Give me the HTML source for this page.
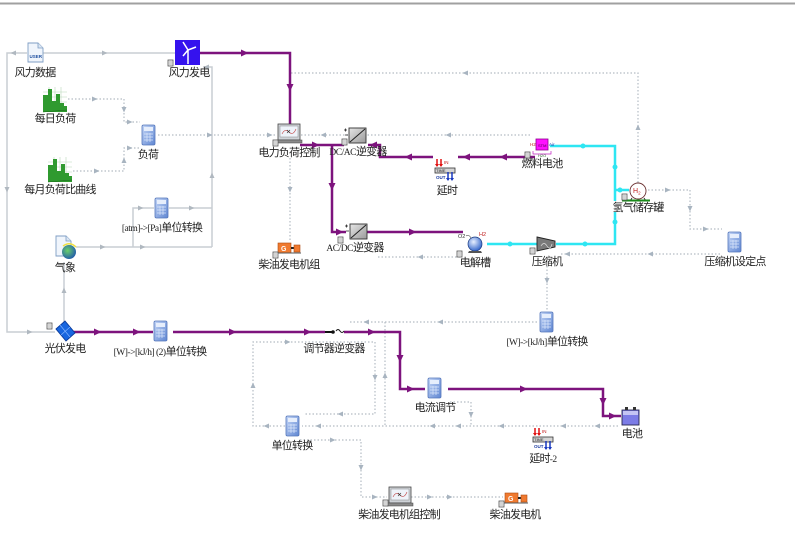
<!DOCTYPE html>
<html><head><meta charset="utf-8"><style>
html,body{margin:0;padding:0;background:#fff;}
svg{display:block;}
.t{font-family:"Liberation Sans","Noto Sans CJK SC",sans-serif;font-size:11px;fill:#222;letter-spacing:-0.8px;}
.s{font-family:"Liberation Serif",serif;font-size:9.5px;letter-spacing:-0.5px;}
.sol{fill:none;stroke:#c9ced4;stroke-width:1.5;}
.dot{fill:none;stroke:#b4bcc4;stroke-width:1.2;stroke-dasharray:1.5 2;}
.pur{fill:none;stroke:#7d137d;stroke-width:2.5;}
.cy{fill:none;stroke:#2ee6f2;stroke-width:2.5;}
</style></head><body>
<svg width="797" height="556" viewBox="0 0 797 556" xmlns="http://www.w3.org/2000/svg">
<defs>
<path id="pa" d="M-4,-3.5 L3.5,0 L-4,3.5Z"/>
<path id="ga" d="M-3,-2.5 L2.5,0 L-3,2.5Z"/>
<linearGradient id="calc" x1="0" y1="0" x2="1" y2="1"><stop offset="0" stop-color="#c4d6f6"/><stop offset="1" stop-color="#5f86d2"/></linearGradient>
<linearGradient id="conv" x1="0" y1="0" x2="1" y2="1"><stop offset="0" stop-color="#e6e6e6"/><stop offset="1" stop-color="#9a9a9a"/></linearGradient>
<radialGradient id="sph" cx="0.4" cy="0.35" r="0.7"><stop offset="0" stop-color="#e8f0ff"/><stop offset="1" stop-color="#2a5fc8"/></radialGradient>
<radialGradient id="glob" cx="0.4" cy="0.4" r="0.7"><stop offset="0" stop-color="#6ad06a"/><stop offset="1" stop-color="#1a50b0"/></radialGradient>
<g id="calcI"><rect x="0" y="0" width="13" height="20" rx="1.5" fill="url(#calc)" stroke="#5577bb" stroke-width="0.8"/><rect x="2" y="2" width="9" height="4" fill="#e6eefc"/><path d="M2,9 h9 M2,12 h9 M2,15 h9 M5,8 v9 M8,8 v9" stroke="#dce7fb" stroke-width="0.7"/></g>
<g id="pin"><rect x="0" y="0" width="5" height="6" fill="#f4f4f4" stroke="#555" stroke-width="0.8"/><path d="M1,2 h3 M1,4 h3" stroke="#777" stroke-width="0.5"/></g>
<g id="bars"><rect x="0" y="0" width="24" height="25" fill="#fff"/><path d="M0,5 h24 M0,10 h24 M0,15 h24 M0,20 h24 M6,0 v25 M12,0 v25 M18,0 v25" stroke="#b8d8b8" stroke-width="0.6"/><path d="M0,25 V8 H5 V2 H9 V14 H13 V7 H17 V16 H21 V19 H24 V25 Z" fill="#2f9a2f"/><path d="M0,25 L24,23" stroke="#1a6a1a" stroke-width="0.6"/></g>
<g id="delay"><path d="M2,0 v7 M6,0 v7" stroke="#e01010" stroke-width="1.5"/><path d="M0,5 l2,3 l2,-3 M4,5 l2,3 l2,-3" fill="#e01010"/><text x="9" y="5" font-family="Liberation Sans,sans-serif" font-size="4.5" fill="#c01010">IN</text><rect x="0" y="9" width="20" height="5" fill="#d4d4d4" stroke="#333" stroke-width="0.8"/><text x="1" y="13" font-family="Liberation Sans,sans-serif" font-size="4" fill="#222">TIME</text><text x="1" y="20" font-family="Liberation Sans,sans-serif" font-size="4.5" fill="#1a3aa0" font-weight="bold">OUT</text><path d="M13,13 v8 M17,13 v8" stroke="#1a3ac0" stroke-width="1.5"/><path d="M11,19 l2,3 l2,-3 M15,19 l2,3 l2,-3" fill="#1a3ac0"/></g>
<g id="laptop"><rect x="0" y="0" width="22" height="16" fill="#cfd3d8" stroke="#444" stroke-width="0.8"/><rect x="2" y="2" width="18" height="11" fill="#eef3fa" stroke="#888" stroke-width="0.5"/><path d="M4,10 q3,-6 7,-2 t7,-3" stroke="#c04040" stroke-width="0.6" fill="none"/><path d="M9,6 l3,3 M12,6 l-3,3" stroke="#333" stroke-width="0.6"/><rect x="-2" y="16" width="26" height="3" fill="#8a8a8a" stroke="#444" stroke-width="0.5"/></g>
<g id="gen"><rect x="0" y="0" width="13" height="10" fill="#f07a30" stroke="#b04a10" stroke-width="0.6"/><text x="3" y="8" font-family="Liberation Sans,sans-serif" font-size="7" fill="#fff" font-weight="bold">G</text><rect x="13" y="4" width="3" height="2" fill="#222"/><rect x="16" y="2" width="6" height="7" fill="#f07a30" stroke="#b04a10" stroke-width="0.6"/><path d="M-1,10 h24" stroke="#555" stroke-width="1"/></g>
<g id="conv1"><rect x="0" y="0" width="17" height="15" fill="url(#conv)" stroke="#333" stroke-width="0.9"/><path d="M1,14 L16,1" stroke="#222" stroke-width="1"/><path d="M-5,2 h3 M-3.5,0.5 v3 M-4,7 h3" stroke="#222" stroke-width="0.8"/></g>
</defs>

<!-- top bar -->
<line x1="0" y1="3.5" x2="795" y2="3.5" stroke="#a0a0a0" stroke-width="2"/>

<!-- solid gray lines -->
<path class="sol" d="M43,53 H175"/>
<use href="#ga" transform="translate(105,53)" fill="#b0b8c0"/>
<path class="sol" d="M27,53 H7 V332 H55"/>
<use href="#ga" transform="translate(13,53) rotate(180)" fill="#b0b8c0"/>
<use href="#ga" transform="translate(7,190) rotate(90)" fill="#b0b8c0"/>
<use href="#ga" transform="translate(30,332)" fill="#b0b8c0"/>
<path class="sol" d="M212,247 V67 H203"/>
<use href="#ga" transform="translate(206,67) rotate(180)" fill="#b0b8c0"/>
<use href="#ga" transform="translate(212,175) rotate(-90)" fill="#b0b8c0"/>
<path class="sol" d="M76,247 H212"/>
<use href="#ga" transform="translate(103,247)" fill="#b0b8c0"/>
<use href="#ga" transform="translate(143,247)" fill="#b0b8c0"/>
<path class="sol" d="M133,247 V208 H154"/>
<use href="#ga" transform="translate(141,208)" fill="#b0b8c0"/>
<path class="sol" d="M169,208 H212"/>
<use href="#ga" transform="translate(192,208)" fill="#b0b8c0"/>
<path class="sol" d="M64,262 V322"/>
<use href="#ga" transform="translate(64,290) rotate(-90)" fill="#b0b8c0"/>

<!-- dotted lines -->
<path class="dot" d="M68,99 H124 V122 H140"/>
<use href="#ga" transform="translate(95,99)" fill="#a8b4c0"/>
<use href="#ga" transform="translate(124,110) rotate(90)" fill="#a8b4c0"/>
<use href="#ga" transform="translate(130,122)" fill="#a8b4c0"/>
<path class="dot" d="M73,171 H124 V148 H140"/>
<use href="#ga" transform="translate(97,171)" fill="#a8b4c0"/>
<use href="#ga" transform="translate(124,160) rotate(-90)" fill="#a8b4c0"/>
<use href="#ga" transform="translate(130,148)" fill="#a8b4c0"/>
<path class="dot" d="M158,135 H277"/>
<use href="#ga" transform="translate(210,135)" fill="#a8b4c0"/>
<use href="#ga" transform="translate(270,135)" fill="#a8b4c0"/>
<path class="dot" d="M301,135 H532"/>
<use href="#ga" transform="translate(323,135) rotate(180)" fill="#a8b4c0"/>
<use href="#ga" transform="translate(448,135) rotate(180)" fill="#a8b4c0"/>
<path class="dot" d="M291,73 H638 V183"/>
<use href="#ga" transform="translate(465,73) rotate(180)" fill="#a8b4c0"/>
<use href="#ga" transform="translate(638,127) rotate(-90)" fill="#a8b4c0"/>
<path class="dot" d="M290,158 V241"/>
<use href="#ga" transform="translate(290,190) rotate(90)" fill="#a8b4c0"/>
<path class="dot" d="M460,257 H378"/>
<use href="#ga" transform="translate(420,257) rotate(180)" fill="#a8b4c0"/>
<path class="dot" d="M720,254 H560"/>
<use href="#ga" transform="translate(650,254) rotate(180)" fill="#a8b4c0"/>
<use href="#ga" transform="translate(567,254) rotate(180)" fill="#a8b4c0"/>
<path class="dot" d="M547,266 V311"/>
<use href="#ga" transform="translate(547,281) rotate(90)" fill="#a8b4c0"/>
<path class="dot" d="M648,190 H690 V229 H722"/>
<use href="#ga" transform="translate(668,190)" fill="#a8b4c0"/>
<use href="#ga" transform="translate(690,209) rotate(90)" fill="#a8b4c0"/>
<use href="#ga" transform="translate(706,229)" fill="#a8b4c0"/>
<path class="dot" d="M537,322 H348"/>
<use href="#ga" transform="translate(366,322) rotate(180)" fill="#a8b4c0"/>
<use href="#ga" transform="translate(440,322) rotate(180)" fill="#a8b4c0"/>
<path class="dot" d="M385,322 V426"/>
<use href="#ga" transform="translate(385,375) rotate(-90)" fill="#a8b4c0"/>
<path class="dot" d="M618,426 H302"/>
<use href="#ga" transform="translate(597,426) rotate(180)" fill="#a8b4c0"/>
<use href="#ga" transform="translate(563,426) rotate(180)" fill="#a8b4c0"/>
<use href="#ga" transform="translate(501,426) rotate(180)" fill="#a8b4c0"/>
<use href="#ga" transform="translate(458,426) rotate(180)" fill="#a8b4c0"/>
<use href="#ga" transform="translate(432,426) rotate(180)" fill="#a8b4c0"/>
<use href="#ga" transform="translate(318,426) rotate(180)" fill="#a8b4c0"/>
<path class="dot" d="M450,402 H471 V426"/>
<use href="#ga" transform="translate(471,415) rotate(90)" fill="#a8b4c0"/>
<path class="dot" d="M285,426 H253 V342 H375 V414 H304"/>
<use href="#ga" transform="translate(266,426) rotate(180)" fill="#a8b4c0"/>
<use href="#ga" transform="translate(253,385) rotate(-90)" fill="#a8b4c0"/>
<use href="#ga" transform="translate(288,342)" fill="#a8b4c0"/>
<use href="#ga" transform="translate(375,378) rotate(90)" fill="#a8b4c0"/>
<use href="#ga" transform="translate(340,414) rotate(180)" fill="#a8b4c0"/>
<path class="dot" d="M300,440 H361 V497 H387"/>
<use href="#ga" transform="translate(333,440)" fill="#a8b4c0"/>
<use href="#ga" transform="translate(361,468) rotate(90)" fill="#a8b4c0"/>
<use href="#ga" transform="translate(375,497)" fill="#a8b4c0"/>
<path class="dot" d="M411,497 H503"/>
<use href="#ga" transform="translate(430,497)" fill="#a8b4c0"/>
<use href="#ga" transform="translate(450,497)" fill="#a8b4c0"/>

<!-- cyan lines -->
<path class="cy" d="M550,146 H615 V201"/>
<path class="cy" d="M615,190 H629"/>
<path class="cy" d="M615,212 V244 H556"/>
<path class="cy" d="M487,244 H537"/>
<circle cx="583" cy="146" r="2.5" fill="#2ee6f2"/>
<circle cx="615" cy="167" r="2.5" fill="#2ee6f2"/>
<circle cx="620" cy="190" r="2.5" fill="#2ee6f2"/>
<circle cx="585" cy="244" r="2.5" fill="#2ee6f2"/>
<circle cx="615" cy="222" r="2.5" fill="#2ee6f2"/>
<circle cx="510" cy="244" r="2.5" fill="#2ee6f2"/>

<!-- purple lines -->
<path class="pur" d="M200,53 H290 V125"/>
<use href="#pa" transform="translate(245,53)" fill="#7d137d"/>
<use href="#pa" transform="translate(290,88) rotate(90)" fill="#7d137d"/>
<path class="pur" d="M300,145 H344"/>
<use href="#pa" transform="translate(316,145)" fill="#7d137d"/>
<path class="pur" d="M332,145 V232 H346"/>
<use href="#pa" transform="translate(332,187) rotate(90)" fill="#7d137d"/>
<use href="#pa" transform="translate(340,232)" fill="#7d137d"/>
<path class="pur" d="M367,232 H463"/>
<use href="#pa" transform="translate(413,232)" fill="#7d137d"/>
<path class="pur" d="M535,157 H458"/>
<path class="pur" d="M433,157 H380 V145 H368"/>
<use href="#pa" transform="translate(503,157) rotate(180)" fill="#7d137d"/>
<use href="#pa" transform="translate(466,157) rotate(180)" fill="#7d137d"/>
<use href="#pa" transform="translate(408,157) rotate(180)" fill="#7d137d"/>
<use href="#pa" transform="translate(373,145) rotate(180)" fill="#7d137d"/>
<path class="pur" d="M73,332 H153"/>
<use href="#pa" transform="translate(98,332)" fill="#7d137d"/>
<use href="#pa" transform="translate(137,332)" fill="#7d137d"/>
<path class="pur" d="M173,332 H325"/>
<use href="#pa" transform="translate(233,332)" fill="#7d137d"/>
<use href="#pa" transform="translate(308,332)" fill="#7d137d"/>
<path class="pur" d="M344,332 H400 V389 H425"/>
<use href="#pa" transform="translate(372,332)" fill="#7d137d"/>
<use href="#pa" transform="translate(400,359) rotate(90)" fill="#7d137d"/>
<use href="#pa" transform="translate(411,389)" fill="#7d137d"/>
<path class="pur" d="M448,389 H603 V416 H621"/>
<use href="#pa" transform="translate(524,389)" fill="#7d137d"/>
<use href="#pa" transform="translate(603,402) rotate(90)" fill="#7d137d"/>
<use href="#pa" transform="translate(613,416)" fill="#7d137d"/>

<!-- switch 调节器逆变器 -->
<path d="M325,332 h7" stroke="#111" stroke-width="2"/>
<circle cx="333" cy="332" r="1.8" fill="#111"/>
<path d="M336,331 q2,-3 4,0 t4,0" stroke="#111" stroke-width="1" fill="none"/>

<!-- icons -->
<!-- 风力数据 -->
<path d="M28,43 h10 l5,5 v14 h-15 z" fill="#f0f5fc" stroke="#7f9ec4" stroke-width="0.9"/>
<path d="M38,43 v5 h5" fill="#dbe6f4" stroke="#7f9ec4" stroke-width="0.8"/>
<text x="29.5" y="58" font-family="Liberation Sans,sans-serif" font-size="4.5" fill="#2050a0" font-weight="bold">USER</text>
<!-- 风力发电 -->
<rect x="175" y="40" width="25" height="25" fill="#3512ee"/>
<path d="M188,50 V64 M188,50 L183,42 M188,50 L196,47 M188,50 L183,56" stroke="#fff" stroke-width="1.5"/>
<use href="#pin" transform="translate(168,60)"/>
<!-- bar charts -->
<use href="#bars" transform="translate(43,87)"/>
<use href="#bars" transform="translate(48,157)"/>
<!-- calculators -->
<use href="#calcI" transform="translate(142,125)"/>
<use href="#calcI" transform="translate(155,198)"/>
<use href="#calcI" transform="translate(154,321)"/>
<use href="#calcI" transform="translate(540,312)"/>
<use href="#calcI" transform="translate(428,378)"/>
<use href="#calcI" transform="translate(286,416)"/>
<use href="#calcI" transform="translate(728,232)"/>
<!-- 气象 -->
<path d="M56,236 h10 l5,5 v15 h-15 z" fill="#f0f5fc" stroke="#7f9ec4" stroke-width="0.9"/>
<path d="M66,236 v5 h5" fill="#dbe6f4" stroke="#7f9ec4" stroke-width="0.8"/>
<circle cx="69" cy="252" r="7" fill="url(#glob)"/>
<path d="M63,246 q7,-5 13,1" stroke="#f0e040" stroke-width="1.5" fill="none"/>
<!-- 光伏发电 -->
<polygon points="56,329 65,321 75,333 66,341" fill="#1866e0" stroke="#0a3a9a" stroke-width="0.9"/>
<path d="M60,325 l10,12 M61,335 l9,-8" stroke="#8ab8ff" stroke-width="0.6"/>
<use href="#pin" transform="translate(47,323)"/>
<!-- laptops -->
<use href="#laptop" transform="translate(278,124)"/>
<use href="#pin" transform="translate(273,140)"/>
<use href="#laptop" transform="translate(389,487)"/>
<use href="#pin" transform="translate(383,500)"/>
<!-- converters -->
<use href="#conv1" transform="translate(349,128)"/>
<use href="#pin" transform="translate(342,139)"/>
<use href="#conv1" transform="translate(350,224)"/>
<use href="#pin" transform="translate(338,237)"/>
<!-- gens -->
<use href="#gen" transform="translate(278,243)"/>
<use href="#pin" transform="translate(273,252)"/>
<use href="#gen" transform="translate(505,493)"/>
<use href="#pin" transform="translate(499,501)"/>
<!-- delays -->
<use href="#delay" transform="translate(435,159)"/>
<use href="#delay" transform="translate(533,428)"/>
<!-- 燃料电池 -->
<rect x="536" y="139" width="12" height="11" fill="#ff10ff" stroke="#900090" stroke-width="0.8"/>
<text x="538" y="147" font-family="Liberation Sans,sans-serif" font-size="4" fill="#400040">STM</text>
<text x="530" y="146" font-family="Liberation Sans,sans-serif" font-size="4.5" fill="#c02020">H2</text>
<text x="549" y="146" font-family="Liberation Sans,sans-serif" font-size="4.5" fill="#2030b0">Air</text>
<path d="M533,151 v3 h18 v-3" stroke="#c020c0" stroke-width="0.7" fill="none"/>
<text x="538" y="157" font-family="Liberation Sans,sans-serif" font-size="4" fill="#2a6a2a">H2O</text>
<use href="#pin" transform="translate(525,152)"/>
<!-- 氢气储存罐 -->
<circle cx="638" cy="191" r="8" fill="#fff" stroke="#6a3030" stroke-width="0.9"/>
<text x="633" y="193" font-family="Liberation Sans,sans-serif" font-size="7" fill="#c02020">H<tspan font-size="4.5" dy="1.5">2</tspan></text>
<path d="M632,198 l-2,3 M644,198 l2,3" stroke="#333" stroke-width="1"/>
<path d="M622,200.5 H650" stroke="#1a8a1a" stroke-width="2"/>
<use href="#pin" transform="translate(622,194)"/>
<!-- 电解槽 -->
<circle cx="475" cy="244" r="7" fill="url(#sph)" stroke="#1a3a80" stroke-width="0.7"/>
<path d="M469,251 h12 l1,2 h-14 z" fill="#555"/>
<text x="458" y="238" font-family="Liberation Sans,sans-serif" font-size="5.5" fill="#333">O2</text>
<path d="M466,236 q3,-2 5,2" stroke="#555" stroke-width="0.6" fill="none"/>
<text x="479" y="236" font-family="Liberation Sans,sans-serif" font-size="5.5" fill="#c02020">H2</text>
<use href="#pin" transform="translate(457,251)"/>
<!-- 压缩机 -->
<polygon points="537,237 555,241 555,247 537,251" fill="#7a7a7a" stroke="#222" stroke-width="0.9"/>
<path d="M541,246 q3,-5 6,0 t5,-2" stroke="#ddd" stroke-width="0.7" fill="none"/>
<use href="#pin" transform="translate(530,248)"/>
<!-- 电池 -->
<rect x="622" y="410" width="17" height="15" fill="#7c7ce6" stroke="#2a2a50" stroke-width="0.9"/>
<rect x="623" y="411" width="15" height="4" fill="#c4c4f4"/>
<rect x="625" y="407" width="3" height="3" fill="#333"/>
<rect x="633" y="407" width="3" height="3" fill="#333"/>

<!-- labels -->
<g class="t" text-anchor="middle">
<text x="35" y="76">风力数据</text>
<text x="189" y="76">风力发电</text>
<text x="55" y="122">每日负荷</text>
<text x="148" y="158">负荷</text>
<text x="60" y="193">每月负荷比曲线</text>
<text x="162" y="231"><tspan class="s">[atm]-&gt;[Pa]</tspan>单位转换</text>
<text x="65" y="271">气象</text>
<text x="65" y="352">光伏发电</text>
<text x="160" y="355"><tspan class="s">[W]-&gt;[kJ/h] (2)</tspan>单位转换</text>
<text x="289" y="156">电力负荷控制</text>
<text x="358" y="155"><tspan class="s">DC/AC</tspan>逆变器</text>
<text x="447" y="194">延时</text>
<text x="542" y="167">燃料电池</text>
<text x="638" y="211">氢气储存罐</text>
<text x="355" y="251"><tspan class="s">AC/DC</tspan>逆变器</text>
<text x="289" y="268">柴油发电机组</text>
<text x="475" y="266">电解槽</text>
<text x="547" y="265">压缩机</text>
<text x="735" y="265">压缩机设定点</text>
<text x="547" y="345"><tspan class="s">[W]-&gt;[kJ/h]</tspan>单位转换</text>
<text x="334" y="352">调节器逆变器</text>
<text x="435" y="411">电流调节</text>
<text x="632" y="437">电池</text>
<text x="292" y="449">单位转换</text>
<text x="543" y="462">延时<tspan class="s">-2</tspan></text>
<text x="399" y="518">柴油发电机组控制</text>
<text x="515" y="518">柴油发电机</text>
</g>
</svg>
</body></html>
